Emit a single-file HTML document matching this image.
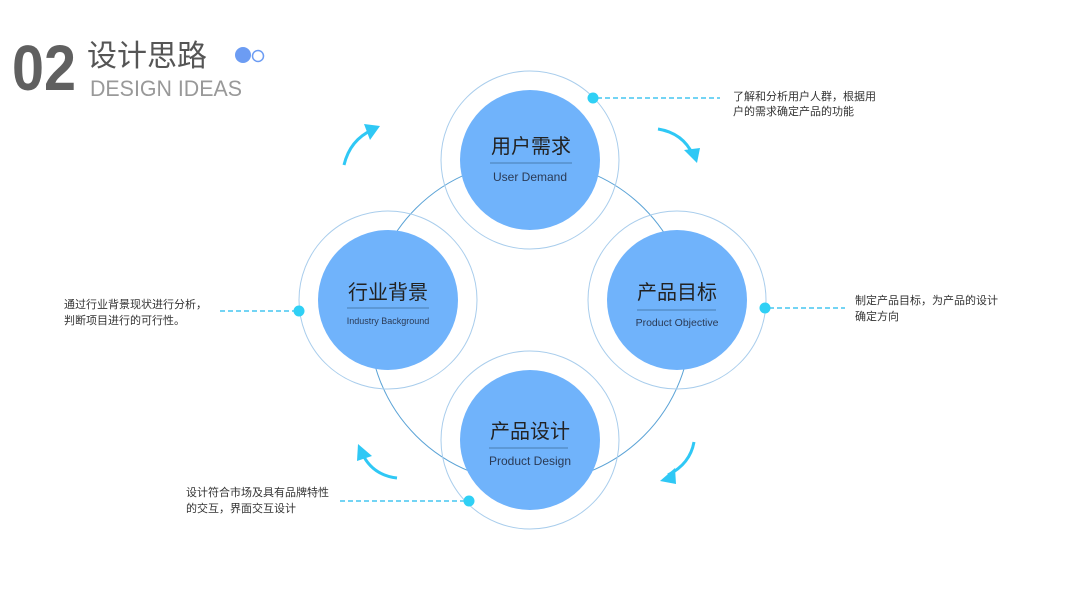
<!DOCTYPE html>
<html><head><meta charset="utf-8"><style>
html,body{margin:0;padding:0;background:#fff;}
body{width:1067px;height:600px;overflow:hidden;position:relative;font-family:"Liberation Sans","Noto Sans CJK SC",sans-serif;}
</style></head><body>
<svg width="1067" height="600" viewBox="0 0 1067 600" xmlns="http://www.w3.org/2000/svg" style="position:absolute;left:0;top:0">
<g font-family="Liberation Sans, Noto Sans CJK SC, sans-serif">
<text x="12" y="90" font-size="64" fill="#606060" font-weight="bold" textLength="64" lengthAdjust="spacingAndGlyphs">02</text>
<text x="87" y="66" font-size="30" fill="#555">设计思路</text>
<text x="90" y="96" font-size="22" fill="#999" textLength="152" lengthAdjust="spacingAndGlyphs">DESIGN IDEAS</text>
<circle cx="243" cy="55" r="8" fill="#6c9cf3"/>
<circle cx="258" cy="56" r="5.5" fill="#fff" stroke="#6c9cf3" stroke-width="1.5"/>

<circle cx="530" cy="322" r="161" fill="none" stroke="#5ba3d6" stroke-width="1"/>

<g fill="none" stroke="#a9cdec" stroke-width="1">
<circle cx="530" cy="160" r="89"/>
<circle cx="388" cy="300" r="89"/>
<circle cx="677" cy="300" r="89"/>
<circle cx="530" cy="440" r="89"/>
</g>
<g fill="#70b3fb">
<circle cx="530" cy="160" r="70"/>
<circle cx="388" cy="300" r="70"/>
<circle cx="677" cy="300" r="70"/>
<circle cx="530" cy="440" r="70"/>
</g>
<g stroke="#3a6a9a" stroke-width="0.8">
<line x1="490" y1="163" x2="572" y2="163"/>
<line x1="347" y1="308" x2="429" y2="308"/>
<line x1="637" y1="310" x2="716" y2="310"/>
<line x1="489" y1="448" x2="568" y2="448"/>
</g>
<g fill="#222" text-anchor="middle">
<text x="531" y="153" font-size="20">用户需求</text>
<text x="530" y="181" font-size="12" fill="#2a3a55">User Demand</text>
<text x="388" y="299" font-size="20">行业背景</text>
<text x="388" y="324" font-size="9" fill="#2a3a55">Industry Background</text>
<text x="677" y="299" font-size="20">产品目标</text>
<text x="677" y="326" font-size="10.5" fill="#2a3a55">Product Objective</text>
<text x="530" y="438" font-size="20">产品设计</text>
<text x="530" y="465" font-size="12" fill="#2a3a55">Product Design</text>
</g>

<g stroke="#45c5f0" stroke-width="1.5" stroke-dasharray="5,3" fill="none">
<line x1="597" y1="98" x2="720" y2="98"/>
<line x1="769" y1="308" x2="845" y2="308"/>
<line x1="220" y1="311" x2="295" y2="311"/>
<line x1="340" y1="501" x2="464" y2="501"/>
</g>
<g fill="#2fd0f5">
<circle cx="593" cy="98" r="5.5"/>
<circle cx="765" cy="308" r="5.5"/>
<circle cx="299" cy="311" r="5.5"/>
<circle cx="469" cy="501" r="5.5"/>
</g>

<g stroke="#2fc8f5" stroke-width="3" fill="none">
<path d="M344,165 Q350,140 372,130"/>
<path d="M658,129 Q683,133 693,155"/>
<path d="M694,442 Q690,464 668,475"/>
<path d="M397,478 Q372,475 362,453"/>
</g>
<g fill="#2fc8f5">
<polygon points="380,126 364,124 370,140"/>
<polygon points="697,163 684,150 700,148"/>
<polygon points="660,481 675,468 676,484"/>
<polygon points="358,444 357,461 372,456"/>
</g>

<g font-size="11" fill="#333">
<text x="733" y="100">了解和分析用户人群，根据用</text>
<text x="733" y="115">户的需求确定产品的功能</text>
<text x="855" y="304">制定产品目标，为产品的设计</text>
<text x="855" y="320">确定方向</text>
<text x="64" y="308">通过行业背景现状进行分析，</text>
<text x="64" y="324">判断项目进行的可行性。</text>
<text x="186" y="496">设计符合市场及具有品牌特性</text>
<text x="186" y="512">的交互，界面交互设计</text>
</g>
</g>
</svg>
</body></html>
